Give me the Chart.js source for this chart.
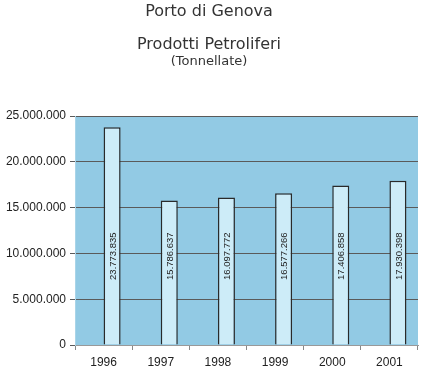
<!DOCTYPE html>
<html>
<head>
<meta charset="utf-8">
<script src="https://cdn.jsdelivr.net/npm/chart.js@4/dist/chart.umd.min.js"></script>
<style>
html,body{margin:0;padding:0;background:#fff;}
#wrap{width:427px;height:382px;}
</style>
</head>
<body>
<div id="wrap"><canvas id="c" width="427" height="382"></canvas></div>
<script>
const years = ['1996','1997','1998','1999','2000','2001'];
const tonnes = [23773835, 15786637, 16097772, 16577266, 17406858, 17930398];
const valueLabels = ['23.773.835','15.786.637','16.097.772','16.577.266','17.406.858','17.930.398'];
const spacer = [null, null, null, null, null, null];
const yTicks = [0, 5000000, 10000000, 15000000, 20000000, 25000000];

function fmt(v){ return String(v).replace(/\B(?=(\d{3})+(?!\d))/g, '.'); }

const bgPlugin = {
  id: 'plotBg',
  beforeDraw(chart){
    const a = chart.chartArea, ctx = chart.ctx;
    ctx.save();
    ctx.fillStyle = '#92cae4';
    ctx.fillRect(a.left, a.top, a.right - a.left, a.bottom - a.top);
    ctx.restore();
  }
};

const labelPlugin = {
  id: 'barLabels',
  afterDatasetsDraw(chart){
    const ctx = chart.ctx;
    const meta = chart.getDatasetMeta(1);
    const yPix = chart.scales.y.getPixelForValue(9700000);
    ctx.save();
    ctx.font = '9.5px "Liberation Sans", Arial, sans-serif';
    ctx.fillStyle = '#222';
    ctx.textAlign = 'center';
    ctx.textBaseline = 'middle';
    meta.data.forEach((bar, i) => {
      ctx.save();
      ctx.translate(bar.x + 1, yPix);
      ctx.rotate(-Math.PI/2);
      ctx.fillText(valueLabels[i], 0, 0);
      ctx.restore();
    });
    ctx.restore();
  }
};

new Chart(document.getElementById('c'), {
  type: 'bar',
  data: {
    labels: years,
    datasets: [
      { label: '', data: spacer, backgroundColor: 'rgba(0,0,0,0)' },
      { label: 'Prodotti Petroliferi', data: tonnes,
        backgroundColor: '#cdecf8', borderColor: '#2a2a2a', borderWidth: 1.5,
        barPercentage: 1.0, categoryPercentage: 0.596 }
    ]
  },
  options: {
    responsive: false,
    animation: false,
    layout: { padding: { left: 0, right: 9, top: 0, bottom: 0 } },
    datasets: { bar: { barPercentage: 1.0, categoryPercentage: 0.596 } },
    plugins: {
      legend: { display: false },
      tooltip: { enabled: false },
      title: {
        display: true,
        text: ['Porto di Genova', '', 'Prodotti Petroliferi'],
        color: '#333',
        font: { family: '"DejaVu Sans", Verdana, sans-serif', size: 16, weight: 'normal', lineHeight: 1.03 },
        padding: { top: 4, bottom: 0 }
      },
      subtitle: {
        display: true,
        text: '(Tonnellate)',
        color: '#333',
        font: { family: '"DejaVu Sans", Verdana, sans-serif', size: 13, weight: 'normal', lineHeight: 1.2 },
        padding: { top: 0, bottom: 47 }
      }
    },
    scales: {
      x: {
        offset: true,
        grid: { display: true, offset: true, drawOnChartArea: false, drawTicks: true, tickLength: 5, color: '#888' },
        border: { display: true, color: '#999' },
        ticks: { color: '#222', font: { family: '"Liberation Sans", Arial, sans-serif', size: 12 }, padding: 5 },
        afterFit(s){ s.height = 37; }
      },
      y: {
        min: 0, max: 25000000,
        afterBuildTicks(s){ s.ticks = yTicks.map(v => ({ value: v })); },
        grid: { color: '#5a5a5a', lineWidth: 1, tickLength: 5 },
        border: { display: true, color: '#a9d4e8' },
        ticks: { color: '#222', font: { family: '"Liberation Sans", Arial, sans-serif', size: 12 }, padding: 4,
                 callback: v => fmt(v) },
        afterFit(s){ s.width = 75; }
      }
    }
  },
  plugins: [bgPlugin, labelPlugin]
});
</script>
</body>
</html>
